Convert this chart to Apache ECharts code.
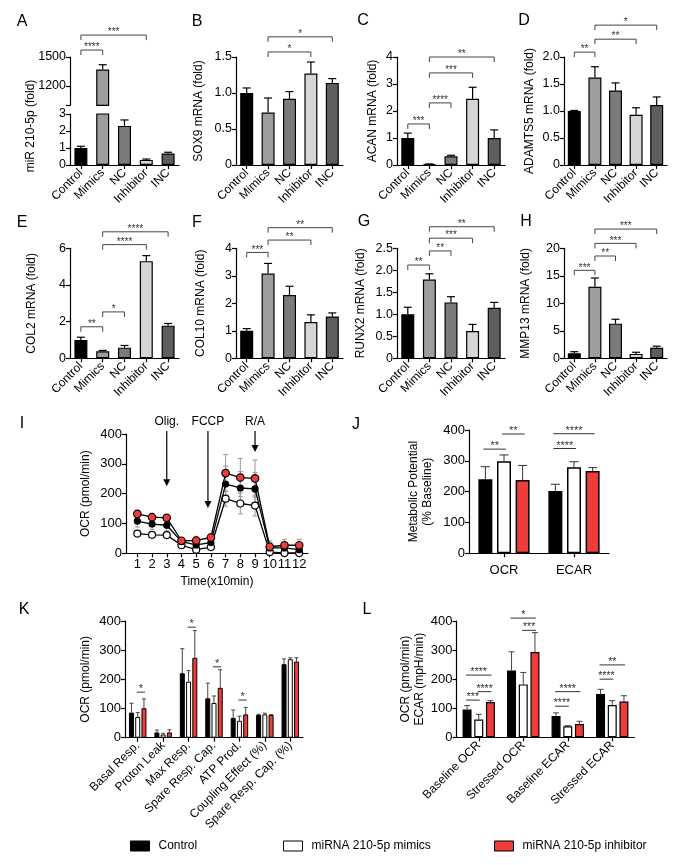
<!DOCTYPE html>
<html>
<head>
<meta charset="utf-8">
<script src="https://cdn.jsdelivr.net/npm/echarts@6.0.0/dist/echarts.min.js"></script>
<style>
html,body{margin:0;padding:0;background:#ffffff;}
#chart{width:688px;height:865px;}
</style>
</head>
<body>
<div id="chart"></div>
<script>
// ---------------- data ----------------
const geneGroups = ['Control', 'Mimics', 'NC', 'Inhibitor', 'INC'];
const mirMean = [1.0, 1370, 2.3, 0.3, 0.68];
const mirErr = [0.1, 50, 0.35, 0.05, 0.07];
const sox9Mean = [1.0, 0.73, 0.92, 1.27, 1.14];
const sox9Err = [0.07, 0.2, 0.1, 0.16, 0.06];
const acanMean = [1.0, 0.03, 0.32, 2.45, 1.0];
const acanErr = [0.18, 0.01, 0.04, 0.43, 0.3];
const adamts5Mean = [1.0, 1.62, 1.38, 0.93, 1.11];
const adamts5Err = [0.01, 0.2, 0.14, 0.13, 0.15];
const col2Mean = [1.0, 0.38, 0.58, 5.3, 1.78];
const col2Err = [0.15, 0.05, 0.12, 0.3, 0.12];
const col10Mean = [1.0, 3.08, 2.3, 1.32, 1.52];
const col10Err = [0.08, 0.37, 0.32, 0.26, 0.13];
const runx2Mean = [1.0, 1.79, 1.27, 0.62, 1.15];
const runx2Err = [0.16, 0.13, 0.13, 0.15, 0.12];
const mmp13Mean = [0.9, 13.0, 6.3, 0.8, 1.9];
const mmp13Err = [0.3, 1.6, 0.8, 0.3, 0.3];

// significance: [fromGroup, toGroup, yValue, stars]
const mirSig = [[0, 1, 1572, '****'], [0, 3, 1727, '***']];
const sox9Sig = [[1, 3, 1.57, '*'], [1, 4, 1.78, '*']];
const acanSig = [[0, 1, 1.52, '***'], [1, 2, 2.3, '****'], [1, 3, 3.41, '***'], [1, 4, 4.0, '**']];
const adamts5Sig = [[0, 1, 2.09, '**'], [1, 3, 2.33, '**'], [1, 4, 2.59, '*']];
const col2Sig = [[0, 1, 1.72, '**'], [1, 2, 2.53, '*'], [1, 3, 6.2, '****'], [1, 4, 6.9, '****']];
const col10Sig = [[0, 1, 3.85, '***'], [1, 3, 4.3, '**'], [1, 4, 4.75, '**']];
const runx2Sig = [[0, 1, 2.12, '**'], [1, 2, 2.44, '**'], [1, 3, 2.73, '***'], [1, 4, 2.99, '**']];
const mmp13Sig = [[0, 1, 16.0, '***'], [1, 2, 18.6, '**'], [1, 3, 20.9, '***'], [1, 4, 23.5, '***']];

// Panel I: OCR time course
const iTime = [1, 2, 3, 4, 5, 6, 7, 8, 9, 10, 11, 12];
const iControl = [108, 98, 94, 39, 28, 36, 232, 219, 216, 18, 18, 12];
const iMimics = [66, 62, 61, 27, 12, 21, 183, 167, 160, 4, 1, 1];
const iInhib = [132, 121, 119, 42, 43, 53, 269, 254, 251, 22, 27, 27];
const iControlErr = [20, 18, 18, 8, 10, 10, 60, 55, 55, 18, 18, 18];
const iMimicsErr = [6, 6, 6, 5, 5, 5, 25, 35, 35, 10, 10, 10];
const iInhibErr = [10, 8, 8, 6, 14, 12, 62, 64, 62, 20, 20, 20];
const iInjections = ['Olig.', 'FCCP', 'R/A'];
const iInjectionTime = [3, 5.8, 9];

// Panel J
const jCats = ['OCR', 'ECAR'];
const jControl = [240, 202];
const jMimics = [299, 279];
const jInhib = [238, 267];
const jControlErr = [41, 22];
const jMimicsErr = [20, 18];
const jInhibErr = [47, 11];
// [category, fromBar, toBar, yValue, stars]
const jSig = [[0, 0, 1, 338, '**'], [0, 1, 2, 387, '**'], [1, 0, 1, 340, '****'], [1, 0, 2, 388, '****']];

// Panel K
const kCats = ['Basal Resp.', 'Proton Leak', 'Max Resp.', 'Spare Resp. Cap.', 'ATP Prod.', 'Coupling Effect (%)', 'Spare Resp. Cap. (%)'];
const kControl = [86, 18, 221, 135, 68, 78, 252];
const kMimics = [71, 11, 192, 119, 58, 80, 269];
const kInhib = [101, 18, 274, 171, 80, 78, 261];
const kControlErr = [32, 8, 84, 52, 27, 2, 18];
const kMimicsErr = [15, 4, 38, 24, 16, 4, 5];
const kInhibErr = [32, 9, 93, 62, 24, 1, 13];
const kSig = [[0, 1, 2, 156, '*'], [2, 1, 2, 379, '*'], [3, 1, 2, 243, '*'], [4, 1, 2, 129, '*']];

// Panel L
const lCats = ['Baseline OCR', 'Stressed OCR', 'Baseline ECAR', 'Stressed ECAR'];
const lControl = [96, 230, 73, 149];
const lMimics = [61, 182, 38, 111];
const lInhib = [121, 293, 46, 123];
const lControlErr = [13, 64, 11, 16];
const lMimicsErr = [18, 41, 2, 15];
const lInhibErr = [5, 67, 9, 20];
const lSig = [[0, 0, 1, 128, '***'], [0, 1, 2, 157, '****'], [0, 0, 2, 214, '****'],
              [1, 1, 2, 368, '***'], [1, 0, 2, 410, '*'],
              [2, 0, 1, 107, '****'], [2, 0, 2, 157, '****'],
              [3, 0, 1, 200, '****'], [3, 0, 2, 249, '**']];

const treatmentNames = ['Control', 'miRNA 210-5p mimics', 'miRNA 210-5p inhibitor'];

// ---------------- style ----------------
const FONT = '"Liberation Sans", Arial, Helvetica, sans-serif';
const grayFill = ['#000000', '#9d9d9d', '#7b7b7b', '#d5d5d5', '#5e5e5e'];
const trioFill = ['#000000', '#ffffff', '#ee3b3b'];
const AX = '#000';

const grids = [], xAxes = [], yAxes = [], series = [], graphics = [];

function addGrid(l, t, w, h) {
  grids.push({left: l, top: t, width: w, height: h, containLabel: false, outerBoundsMode: 'none'});
  return grids.length - 1;
}
function catAxis(gi, cats, o) {
  o = o || {};
  xAxes.push({
    type: 'category', gridIndex: gi, data: cats, show: o.show !== false,
    axisLine: {show: true, lineStyle: {color: AX, width: 1.2}},
    axisTick: {show: true, alignWithLabel: true, length: 4, lineStyle: {color: AX, width: 1.2}},
    axisLabel: {show: true, color: '#000', fontFamily: FONT, fontSize: o.fontSize || 12,
                rotate: o.rotate === undefined ? 45 : o.rotate, interval: 0, margin: o.margin || 6},
    splitLine: {show: false}
  });
  return xAxes.length - 1;
}
function valAxis(gi, o) {
  const ax = {
    type: 'value', gridIndex: gi, min: o.min, max: o.max,
    axisLine: {show: true, lineStyle: {color: AX, width: 1.2}},
    axisTick: {show: true, length: 4, lineStyle: {color: AX, width: 1.2}},
    axisLabel: {color: '#000', fontFamily: FONT, fontSize: o.fontSize || 12.5, margin: 4},
    splitLine: {show: false},
    name: o.name || '', nameLocation: 'middle', nameRotate: 90, nameGap: o.nameGap || 30,
    nameTextStyle: {color: '#000', fontFamily: FONT, fontSize: o.nameSize || 12, lineHeight: 14}
  };
  if (o.interval !== undefined) ax.interval = o.interval;
  ax.axisLabel.formatter = o.fmt || (v => String(v));
  if (o.tickValues) ax.axisTick.customValues = o.tickValues;
  if (o.labelValues) ax.axisLabel.customValues = o.labelValues;
  yAxes.push(ax);
  return yAxes.length - 1;
}
const dec1 = v => (v === 0 ? '0' : v.toFixed(1));

function errBars(xi, yi, means, errs, idxs, o) {
  return {
    type: 'custom', xAxisIndex: xi, yAxisIndex: yi, silent: true, z: o.z || 3,
    encode: {x: 0, y: 1},
    data: idxs.map(i => [i, means[i], errs[i]]),
    renderItem(p, api) {
      const c = api.value(0), m = api.value(1), e = api.value(2);
      const a = api.coord([c, m]), b = api.coord([c, m + e]);
      const x = a[0] + (o.off || 0);
      const st = {stroke: o.color, lineWidth: o.width};
      const ch = [
        {type: 'line', shape: {x1: x, y1: a[1], x2: x, y2: b[1]}, style: st},
        {type: 'line', shape: {x1: x - o.cap, y1: b[1], x2: x + o.cap, y2: b[1]}, style: st}
      ];
      if (o.both) {
        const d = api.coord([c, m - e]);
        ch.push({type: 'line', shape: {x1: x, y1: a[1], x2: x, y2: d[1]}, style: st});
        ch.push({type: 'line', shape: {x1: x - o.cap, y1: d[1], x2: x + o.cap, y2: d[1]}, style: st});
      }
      return {type: 'group', children: ch};
    }
  };
}

function brackets(xi, yi, sig, o) {
  return {
    type: 'custom', xAxisIndex: xi, yAxisIndex: yi, silent: true, z: 6, clip: false,
    encode: {x: 0, y: 1},
    data: sig.map(s => [s[0], o.grouped ? s[3] : s[2]]),
    renderItem(p, api) {
      const s = sig[p.dataIndex];
      let x1, x2, y, label;
      if (o.grouped) {
        const c = api.coord([s[0], s[3]]);
        x1 = c[0] + (s[1] - 1) * o.space - o.ext;
        x2 = c[0] + (s[2] - 1) * o.space + o.ext;
        y = c[1]; label = s[4];
      } else {
        const c1 = api.coord([s[0], s[2]]), c2 = api.coord([s[1], s[2]]);
        x1 = c1[0]; x2 = c2[0]; y = c1[1]; label = s[3];
      }
      const st = {stroke: o.color || '#444', lineWidth: 1, fill: null};
      const pts = o.tick ? [[x1, y + o.tick], [x1, y], [x2, y], [x2, y + o.tick]] : [[x1, y], [x2, y]];
      return {type: 'group', children: [
        {type: 'polyline', shape: {points: pts}, style: st},
        {type: 'text', x: (x1 + x2) / 2, y: y + (o.textDy || 2.5),
         style: {text: label, fill: '#333', fontFamily: FONT, fontSize: o.starSize || 10,
                 align: 'center', verticalAlign: 'bottom'}}
      ]};
    }
  };
}

function genePanel(box, means, errs, sig, yo) {
  const gi = addGrid(box[0], box[1], box[2], box[3]);
  const xi = catAxis(gi, geneGroups);
  const yi = valAxis(gi, yo);
  series.push({
    type: 'bar', xAxisIndex: xi, yAxisIndex: yi, barWidth: 13, silent: true,
    itemStyle: {borderColor: '#000', borderWidth: 1.2},
    data: means.map((v, i) => ({value: v, itemStyle: {color: grayFill[i]}}))
  });
  series.push(errBars(xi, yi, means, errs, means.map((v, i) => i), {color: '#000', width: 1.2, cap: 4}));
  series.push(brackets(xi, yi, sig, {tick: 5}));
}

// ---------- Panel A (broken axis) ----------
(function () {
  const upperMin = 1000, lowerMax = 3;
  const giU = addGrid(70, 57, 109, 48.3);
  const xiU = catAxis(giU, geneGroups, {show: false});
  const yiU = valAxis(giU, {min: upperMin, max: 1500, tickValues: [1000, 1200, 1500], labelValues: [1200, 1500]});
  const giL = addGrid(70, 114, 109, 51);
  const xiL = catAxis(giL, geneGroups);
  const yiL = valAxis(giL, {min: 0, max: lowerMax, interval: 1});
  series.push({
    type: 'bar', xAxisIndex: xiU, yAxisIndex: yiU, barWidth: 13, silent: true,
    itemStyle: {borderColor: '#000', borderWidth: 1.2},
    data: mirMean.map((v, i) => ({value: v >= upperMin ? v : null, itemStyle: {color: grayFill[i]}}))
  });
  series.push({
    type: 'bar', xAxisIndex: xiL, yAxisIndex: yiL, barWidth: 13, silent: true, clip: true,
    itemStyle: {borderColor: '#000', borderWidth: 1.2},
    data: mirMean.map((v, i) => ({value: v, itemStyle: {color: grayFill[i]}}))
  });
  const idx = mirMean.map((v, i) => i);
  series.push(errBars(xiU, yiU, mirMean, mirErr, idx.filter(i => mirMean[i] >= upperMin), {color: '#000', width: 1.2, cap: 4}));
  series.push(errBars(xiL, yiL, mirMean, mirErr, idx.filter(i => mirMean[i] + mirErr[i] <= lowerMax), {color: '#000', width: 1.2, cap: 4}));
  series.push(brackets(xiU, yiU, mirSig, {tick: 5}));
})();

genePanel([236, 57, 107, 108], sox9Mean, sox9Err, sox9Sig, {min: 0, max: 1.5, interval: 0.5, fmt: dec1, name: 'SOX9 mRNA (fold)', nameGap: 30});
genePanel([397, 57, 108, 108], acanMean, acanErr, acanSig, {min: 0, max: 4, interval: 1, name: 'ACAN mRNA (fold)', nameGap: 17});
genePanel([564, 57, 103, 108], adamts5Mean, adamts5Err, adamts5Sig, {min: 0, max: 2, interval: 0.5, fmt: dec1, name: 'ADAMTS5 mRNA (fold)', nameGap: 27});
genePanel([70, 248.3, 109, 110], col2Mean, col2Err, col2Sig, {min: 0, max: 6, interval: 2, name: 'COL2 mRNA (fold)', nameGap: 31});
genePanel([236, 248.3, 107, 110], col10Mean, col10Err, col10Sig, {min: 0, max: 4, interval: 1, name: 'COL10 mRNA (fold)', nameGap: 28});
genePanel([397, 248.3, 108, 110], runx2Mean, runx2Err, runx2Sig, {min: 0, max: 2.5, interval: 0.5, fmt: dec1, name: 'RUNX2 mRNA (fold)', nameGap: 29});
genePanel([564, 248.3, 103, 110], mmp13Mean, mmp13Err, mmp13Sig, {min: 0, max: 20, interval: 5, name: 'MMP13 mRNA (fold)', nameGap: 31});

// ---------- Panel I ----------
(function () {
  const gi = addGrid(126, 434, 182, 119.3);
  xAxes.push({
    type: 'value', gridIndex: gi, min: 0.23, max: 12.6,
    axisLine: {show: true, lineStyle: {color: AX, width: 1.2}},
    axisTick: {show: true, length: 4, lineStyle: {color: AX, width: 1.2}, customValues: iTime},
    axisLabel: {color: '#000', fontFamily: FONT, fontSize: 13, margin: 5, customValues: iTime},
    splitLine: {show: false},
    name: 'Time(x10min)', nameLocation: 'middle', nameGap: 22,
    nameTextStyle: {color: '#000', fontFamily: FONT, fontSize: 12}
  });
  const xi = xAxes.length - 1;
  const yi = valAxis(gi, {min: 0, max: 400, interval: 100, fontSize: 13, name: 'OCR (pmol/min)', nameGap: 33});
  const sets = [
    [iMimics, iMimicsErr, '#ffffff', 7],
    [iControl, iControlErr, '#000000', 6],
    [iInhib, iInhibErr, '#ee3b3b', 7.5]
  ];
  sets.forEach((s, k) => {
    const eb = errBars(xi, yi, s[0], s[1], [], {color: '#9a9a9a', width: 1, cap: 2.5, both: true, z: 1});
    eb.data = iTime.map((t, i) => [t, s[0][i], s[1][i]]);
    series.push(eb);
    series.push({
      type: 'line', name: 'I-' + treatmentNames[k], xAxisIndex: xi, yAxisIndex: yi, silent: true, z: 3 + k,
      data: iTime.map((t, i) => [t, s[0][i]]),
      symbol: 'circle', symbolSize: s[3], showSymbol: true,
      lineStyle: {color: '#000', width: 1.3},
      itemStyle: {color: s[2], borderColor: '#000', borderWidth: 1.2}
    });
  });
  const arrowTipValue = [225, 152, 340];
  const labelValue = 440;
  series.push({
    type: 'custom', xAxisIndex: xi, yAxisIndex: yi, silent: true, z: 8, clip: false,
    encode: {x: 0, y: 1},
    data: iInjectionTime.map((t, i) => [t, arrowTipValue[i]]),
    renderItem(p, api) {
      const t = api.value(0);
      const top = api.coord([t, labelValue]);
      const tip = api.coord([t, api.value(1)]);
      const x = tip[0];
      const head = 7, hw = 3.5;
      return {type: 'group', children: [
        {type: 'text', x: top[0], y: top[1], style: {text: iInjections[p.dataIndex], fill: '#000', fontFamily: FONT, fontSize: 12, align: 'center', verticalAlign: 'middle'}},
        {type: 'line', shape: {x1: x, y1: top[1] + 9, x2: x, y2: tip[1] - head + 1}, style: {stroke: '#000', lineWidth: 1.2}},
        {type: 'polygon', shape: {points: [[x - hw, tip[1] - head], [x + hw, tip[1] - head], [x, tip[1]]]}, style: {fill: '#000'}}
      ]};
    }
  });
})();

// ---------- grouped panels J, K, L ----------
function groupedPanel(box, cats, vals, errs, sig, o) {
  const gi = addGrid(box[0], box[1], box[2], box[3]);
  const xi = catAxis(gi, cats, {rotate: o.rotate, fontSize: o.catSize || 12, margin: o.catMargin || 6});
  const yi = valAxis(gi, {min: 0, max: 400, interval: 100, fontSize: 13, name: o.name, nameGap: o.nameGap, nameSize: o.nameSize});
  const space = o.barW * (1 + o.gap);
  vals.forEach((v, k) => {
    series.push({
      type: 'bar', name: treatmentNames[k], xAxisIndex: xi, yAxisIndex: yi, silent: true,
      barWidth: o.barW, barGap: (o.gap * 100) + '%',
      itemStyle: {color: trioFill[k], borderColor: '#000', borderWidth: o.bw || 1.2},
      data: v
    });
  });
  vals.forEach((v, k) => {
    series.push(errBars(xi, yi, v, errs[k], v.map((x, i) => i), {color: o.errColor || '#222', width: 1, cap: o.cap, off: (k - 1) * space, z: 2}));
  });
  series.push(brackets(xi, yi, sig, {grouped: true, space: space, ext: o.ext || 0, starSize: o.starSize || 10.5, textDy: 2.5, color: '#333'}));
}

groupedPanel([469, 430, 140, 123.3], jCats, [jControl, jMimics, jInhib], [jControlErr, jMimicsErr, jInhibErr], jSig,
  {barW: 14, gap: 0.33, cap: 4.5, rotate: 0, catSize: 13, catMargin: 11, name: 'Metabolic Potential\n(% Baseline)', nameGap: 34, nameSize: 12, bw: 1.5, ext: 2, starSize: 11, errColor: '#333'});
groupedPanel([125, 621, 178, 116.7], kCats, [kControl, kMimics, kInhib], [kControlErr, kMimicsErr, kInhibErr], kSig,
  {barW: 5, gap: 0.25, cap: 2, rotate: 45, name: 'OCR (pmol/min)', nameGap: 32, bw: 1, ext: 1, starSize: 11, errColor: '#444'});
groupedPanel([456.5, 621, 178, 116.3], lCats, [lControl, lMimics, lInhib], [lControlErr, lMimicsErr, lInhibErr], lSig,
  {barW: 9, gap: 0.3, cap: 3, rotate: 45, name: 'OCR (pmol/min)\nECAR (mpH/min)', nameGap: 19, bw: 1.2, ext: 1, starSize: 10.5, errColor: '#444'});

// ---------- panel letters & A axis title ----------
const panelLetters = ['A', 'B', 'C', 'D', 'E', 'F', 'G', 'H', 'I', 'J', 'K', 'L'];
const letterPos = [[22, 22], [197, 22], [363, 21], [524, 21], [22, 223], [197, 223], [364, 222], [526, 222], [22, 424], [356, 425], [24, 610], [367, 610]];
panelLetters.forEach((t, i) => {
  graphics.push({type: 'text', x: letterPos[i][0], y: letterPos[i][1], silent: true,
    style: {text: t, fill: '#000', fontFamily: FONT, fontSize: 16, align: 'center', verticalAlign: 'middle'}});
});
graphics.push({type: 'text', x: 31, y: 126, rotation: Math.PI / 2, silent: true,
  style: {text: 'miR 210-5p (fold)', fill: '#000', fontFamily: FONT, fontSize: 12, align: 'center', verticalAlign: 'middle'}});

// ---------- legend ----------
const legendLeft = [130, 283, 494];
const legends = treatmentNames.map((n, k) => ({
  left: legendLeft[k], top: 840, padding: 0, itemWidth: 19, itemHeight: 10, selectedMode: false,
  textStyle: {color: '#000', fontFamily: FONT, fontSize: 12, padding: [0, 0, 0, 4]},
  data: [{name: n, icon: 'rect', itemStyle: {color: trioFill[k], borderColor: '#000', borderWidth: 1}}]
}));

const chart = echarts.init(document.getElementById('chart'), null, {renderer: 'canvas'});
chart.setOption({
  backgroundColor: '#ffffff',
  animation: false,
  grid: grids, xAxis: xAxes, yAxis: yAxes, series: series,
  legend: legends,
  graphic: graphics
});
</script>
</body>
</html>
